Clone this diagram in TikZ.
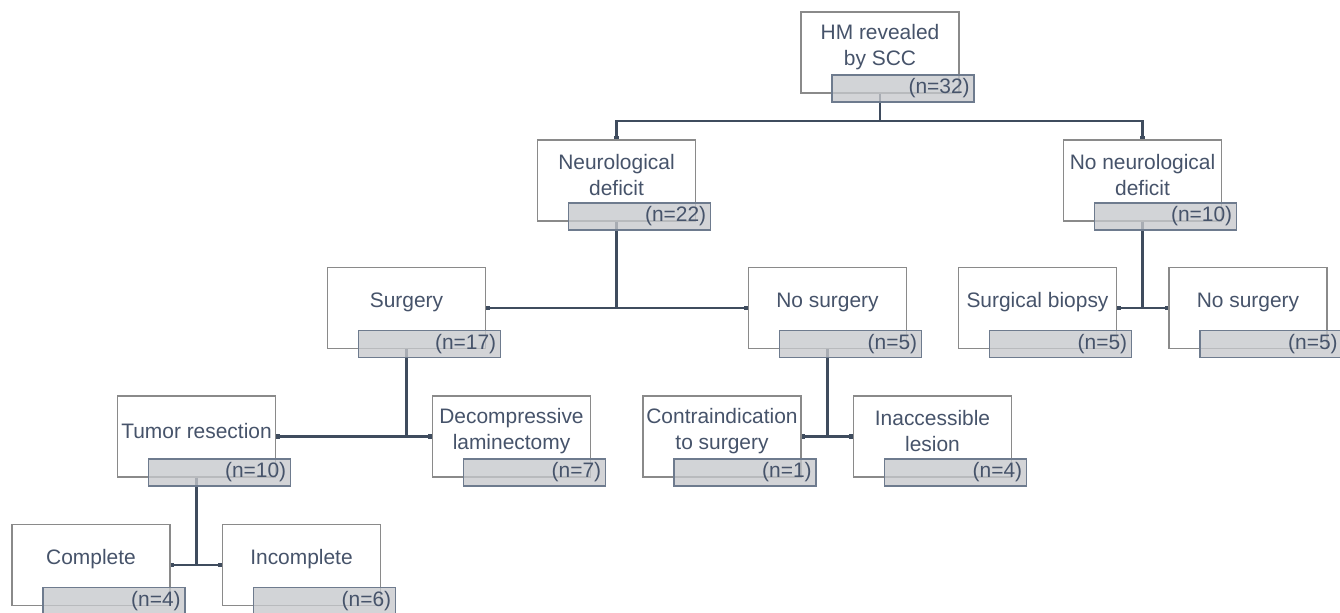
\documentclass[tikz,border=0pt]{standalone}
\usepackage{fontspec}
\setmainfont{Liberation Sans}
\usepackage{tikz}
\usetikzlibrary{arrows.meta,positioning}

\definecolor{boxgray}{HTML}{8A8A8A}
\definecolor{cntfill}{HTML}{C6C8CC}
\definecolor{cntborder}{HTML}{6E7B8E}
\definecolor{linkcol}{HTML}{3F4C5E}
\definecolor{txt}{HTML}{46536A}

\begin{document}
\begin{tikzpicture}[
  x=0.75pt, y=-0.75pt,
  box/.style={draw=boxgray, line width=1pt, fill=white, minimum width=118.5pt, minimum height=60.75pt, inner sep=0pt},
  caption/.style={text=txt, align=center, font=\fontsize{15.7}{19.5}\selectfont, inner sep=0pt},
  count/.style={draw=cntborder, line width=1.1pt, fill=cntfill, fill opacity=0.78, text opacity=1, text=txt,
    text width=100pt, align=right, inner xsep=3.25pt, inner ysep=0pt, minimum height=20.25pt,
    font=\fontsize{15.7}{19.5}\selectfont},
  link/.style={draw=linkcol, line width=2.2pt},
  ends/.style={link, {Square[length=2.6pt,width=3.6pt]}-{Square[length=2.6pt,width=3.6pt]}}
]
  \useasboundingbox (0,0) rectangle (1340,613);

  % white boxes with their captions
  \foreach \nm/\cx/\cy/\txt in {
      root/880/52.5/{HM revealed\\by SCC},
      neuro/616.5/180.5/{Neurological\\deficit},
      noneuro/1142.5/180.5/{No neurological\\deficit},
      surg/406.5/308/{Surgery},
      nosurg/827.5/308/{No surgery},
      biopsy/1037.5/308/{Surgical biopsy},
      nosurgb/1248/308/{No surgery},
      tumor/196.5/436.5/{Tumor resection},
      decomp/511.5/436.5/{Decompressive\\laminectomy},
      contra/722/436.5/{Contraindication\\to surgery},
      inacc/932.5/436.5/{Inaccessible\\lesion},
      complete/91/565/{Complete},
      incomplete/301.5/565/{Incomplete}} {
    \node[box] (\nm) at (\cx,\cy) {};
    \node[caption] (\nm-txt) at ([yshift=4.1pt]\nm.center) {\txt};
  }

  % connectors
  \coordinate (rootbar) at (880,121);
  \draw[link] (root.south) -- (rootbar);
  \draw[ends] (neuro.north) |- (rootbar) -| (noneuro.north);

  \draw[link] (neuro.south) -- (neuro.south |- surg.east);
  \draw[ends] (surg.east) -- (nosurg.west);
  \draw[link] (noneuro.south) -- (noneuro.south |- biopsy.east);
  \draw[ends] (biopsy.east) -- (nosurgb.west);

  \draw[link] (surg.south) -- (surg.south |- tumor.east);
  \draw[ends] (tumor.east) -- (decomp.west);
  \draw[link] (nosurg.south) -- (nosurg.south |- contra.east);
  \draw[ends] (contra.east) -- (inacc.west);

  \draw[link] (tumor.south) -- (tumor.south |- complete.east);
  \draw[ends] (complete.east) -- (incomplete.west);

  % count boxes
  \foreach \nm/\cnt in {root/32, neuro/22, noneuro/10, surg/17, nosurg/5, biopsy/5, nosurgb/5,
      tumor/10, decomp/7, contra/1, inacc/4, complete/4, incomplete/6} {
    \node[count] (\nm-n) at ([xshift=17.25pt,yshift=-27pt]\nm.center) {(n=\cnt)};
  }
\end{tikzpicture}
\end{document}
